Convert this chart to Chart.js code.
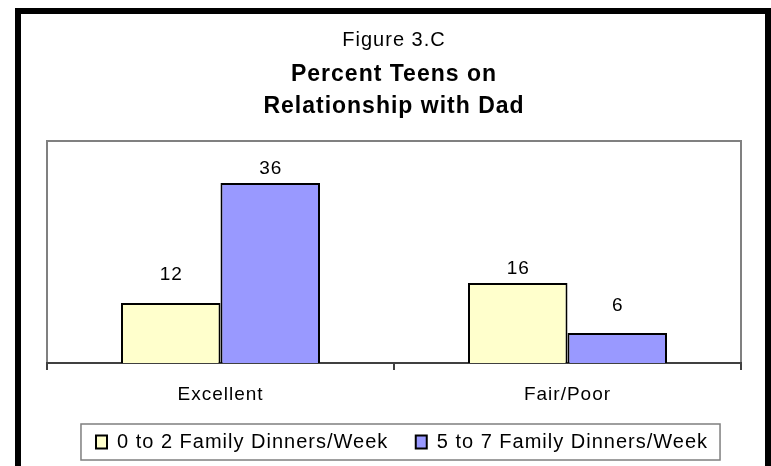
<!DOCTYPE html>
<html>
<head>
<meta charset="utf-8">
<script src="https://cdn.jsdelivr.net/npm/chart.js@4.4.1/dist/chart.umd.min.js"></script>
<style>
  html, body { margin: 0; padding: 0; background: #fff; }
  canvas { display: block; }
</style>
</head>
<body>
<canvas id="graficoPapa" width="771" height="466"></canvas>
<script>
// Datos del gráfico
const categorias = ['Excellent', 'Fair/Poor'];
const nombresSeries = ['0 to 2 Family Dinners/Week', '5 to 7 Family Dinners/Week'];
const pocasCenas = [12, 16];
const muchasCenas = [36, 6];
const maximoY = 44.4;

Chart.defaults.font.family = '"Liberation Sans", Arial, sans-serif';
Chart.defaults.color = '#000';

// Fondo, marco negro y borde gris del área de trazado
const marcoFondo = {
    id: 'marcoFondo',
    beforeUpdate(chart) {
        chart.ctx.letterSpacing = '1px';
    },
    afterLayout(chart) {
        // la leyenda del original está un poco a la derecha
        chart.legend.left += 8;
        chart.legend.right += 8;
    },
    beforeDraw(chart) {
        const ctx = chart.ctx;
        const a = chart.chartArea;
        ctx.save();
        ctx.fillStyle = '#fff';
        ctx.fillRect(0, 0, chart.width, chart.height);
        ctx.fillStyle = '#000';
        ctx.fillRect(15, 8, 756, 6);
        ctx.fillRect(15, 8, 6, 458);
        ctx.fillRect(765, 8, 6, 458);
        ctx.strokeStyle = '#808080';
        ctx.lineWidth = 2;
        ctx.strokeRect(a.left, a.top, a.right - a.left, a.bottom - a.top);
        ctx.restore();
        ctx.letterSpacing = '1px';
    }
};

// Etiquetas de valor encima de cada barra (algunas movidas a mano en el original)
const elevacionExtra = [[14, 0], [0, 13]];
const etiquetasValor = {
    id: 'etiquetasValor',
    afterDatasetsDraw(chart) {
        const ctx = chart.ctx;
        ctx.save();
        ctx.font = '19px "Liberation Sans", Arial, sans-serif';
        ctx.fillStyle = '#000';
        ctx.textAlign = 'center';
        ctx.textBaseline = 'alphabetic';
        chart.data.datasets.forEach((ds, i) => {
            chart.getDatasetMeta(i).data.forEach((barra, j) => {
                ctx.fillText(ds.data[j], barra.x + 0.5, barra.y - 9 - elevacionExtra[i][j]);
            });
        });
        ctx.restore();
    }
};

// Caja alrededor de la leyenda
const cajaLeyenda = {
    id: 'cajaLeyenda',
    afterDraw(chart) {
        const cajas = chart.legend.legendHitBoxes;
        if (!cajas || !cajas.length) return;
        const ultima = cajas[cajas.length - 1];
        const izq = cajas[0].left - 15;
        const der = ultima.left + ultima.width + 12;
        const arriba = cajas[0].top - 8;
        const ctx = chart.ctx;
        ctx.save();
        ctx.strokeStyle = '#7f7f7f';
        ctx.lineWidth = 1.5;
        ctx.strokeRect(izq, arriba, der - izq, 36);
        ctx.restore();
    }
};

function crearGraficoBarras(canvasId) {
    const ctx = document.getElementById(canvasId);
    if (!ctx) {
        console.error(`No se encontró el canvas con id: ${canvasId}`);
        return;
    }
    new Chart(ctx, {
        type: 'bar',
        data: {
            labels: categorias,
            datasets: [
                {
                    label: nombresSeries[0],
                    data: pocasCenas,
                    backgroundColor: '#FFFFCC',
                    borderColor: '#000',
                    borderWidth: 2
                },
                {
                    label: nombresSeries[1],
                    data: muchasCenas,
                    backgroundColor: '#9999FF',
                    borderColor: '#000',
                    borderWidth: 2
                }
            ]
        },
        options: {
            responsive: false,
            animation: false,
            datasets: {
                bar: { categoryPercentage: 0.5735, barPercentage: 1 }
            },
            layout: { padding: { left: 47, right: 30, top: 14, bottom: 4 } },
            scales: {
                x: {
                    grid: { drawOnChartArea: false, drawTicks: true, tickLength: 7, color: '#404040', lineWidth: 2, offset: true },
                    border: { display: true, color: '#404040', width: 2 },
                    ticks: { color: '#000', font: { size: 19, lineHeight: 1 }, padding: 15.5 },
                    afterFit(scale) { scale.height = 41.5; }
                },
                y: { display: false, min: 0, max: maximoY }
            },
            plugins: {
                title: {
                    display: true,
                    text: 'Figure 3.C',
                    color: '#000',
                    font: { size: 20, weight: 'normal', lineHeight: 1.2 },
                    padding: { top: 14, bottom: 7 }
                },
                subtitle: {
                    display: true,
                    text: ['Percent Teens on', 'Relationship with Dad'],
                    color: '#000',
                    font: { size: 23, weight: 'bold', lineHeight: 32 / 23 },
                    padding: { top: 0, bottom: 18 }
                },
                legend: {
                    position: 'bottom',
                    labels: { color: '#000', font: { size: 20 }, boxWidth: 11, boxHeight: 13, padding: 27.5 }
                },
                tooltip: { enabled: false }
            }
        },
        plugins: [marcoFondo, etiquetasValor, cajaLeyenda]
    });
}

crearGraficoBarras('graficoPapa');
</script>
</body>
</html>
